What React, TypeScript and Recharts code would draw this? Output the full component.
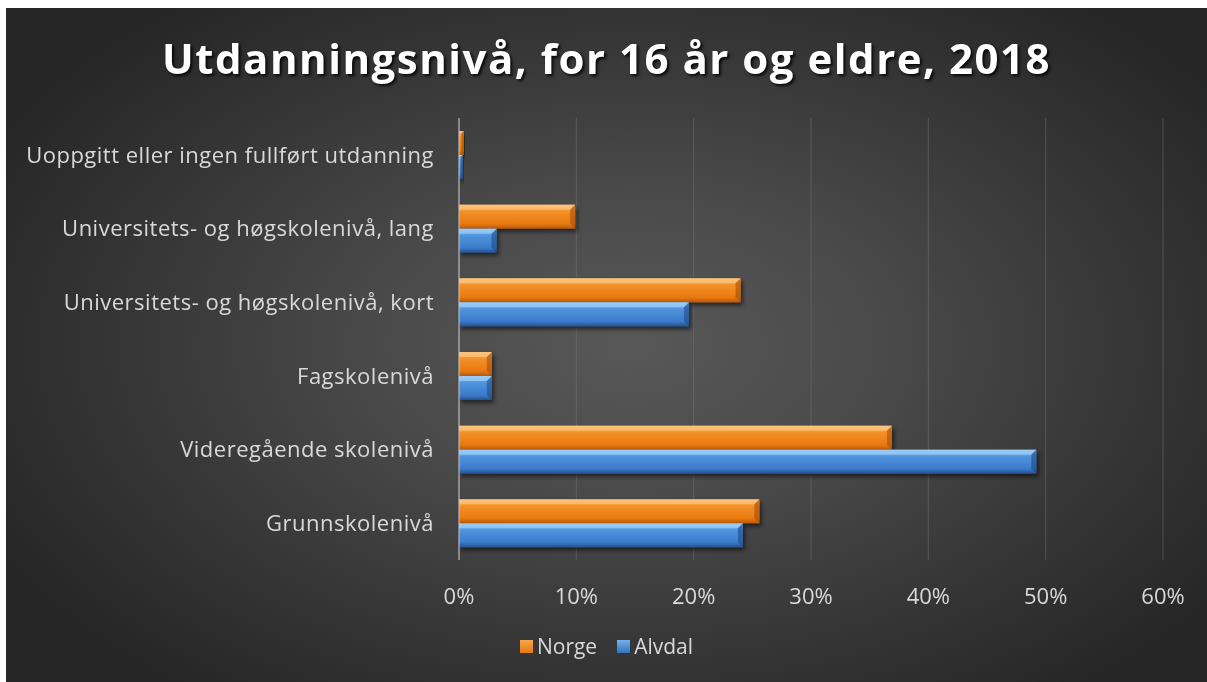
import React, { useLayoutEffect } from 'react';
import { BarChart, Bar, XAxis, YAxis, CartesianGrid, Legend } from 'recharts';

const categories = [
  'Uoppgitt eller ingen fullført utdanning',
  'Universitets- og høgskolenivå, lang',
  'Universitets- og høgskolenivå, kort',
  'Fagskolenivå',
  'Videregående skolenivå',
  'Grunnskolenivå',
];
const norge = [0.4, 9.9, 24.0, 2.8, 36.9, 25.6];
const alvdal = [0.3, 3.2, 19.6, 2.8, 49.2, 24.2];
const xTicks = [0, 10, 20, 30, 40, 50, 60];
const title = 'Utdanningsnivå, for 16 år og eldre, 2018';

const data = categories.map((c, i) => ({ name: c, Norge: norge[i], Alvdal: alvdal[i] }));

const FONT = '"Open Sans", Lato, sans-serif';

const BevelBar = (props: any) => {
  const { x, y, width, height, gradId, edge, light } = props;
  if (width == null || width <= 0) return null;
  const b = Math.min(5, width / 2);
  return (
    <g filter="url(#barShadow)">
      <rect x={x} y={y} width={width} height={height} fill={`url(#${gradId})`} />
      <polygon
        points={`${x},${y} ${x + width},${y} ${x + width - b},${y + b} ${x},${y + b}`}
        fill={light}
        opacity={0.55}
      />
      <polygon
        points={`${x + width},${y} ${x + width},${y + height} ${x + width - b},${y + height - b} ${x + width - b},${y + b}`}
        fill={edge}
        opacity={0.6}
      />
    </g>
  );
};

const LegendContent = () => {
  const items = [
    { name: 'Norge', c1: '#f9a54a', c2: '#e37a12' },
    { name: 'Alvdal', c1: '#73b2ef', c2: '#3572bd' },
  ];
  return (
    <div style={{ display: 'flex', justifyContent: 'center', alignItems: 'center', gap: 20, fontFamily: FONT, fontSize: 21, color: '#d9d9d9' }}>
      {items.map((it) => (
        <div key={it.name} style={{ display: 'flex', alignItems: 'center', gap: 4 }}>
          <span style={{ display: 'inline-block', width: 13, height: 13, background: `linear-gradient(180deg, ${it.c1}, ${it.c2})` }} />
          <span>{it.name}</span>
        </div>
      ))}
    </div>
  );
};

export default function App() {
  useLayoutEffect(() => {
    document.documentElement.style.overflow = 'hidden';
    document.body.style.overflow = 'hidden';
  }, []);
  return (
    <div
      style={{
        position: 'fixed',
        top: 8,
        left: 6,
        width: 1201,
        height: 674,
        overflow: 'hidden',
        background: 'radial-gradient(ellipse 60% 65% at 52% 50%, #585858 0%, #4a4a4a 35%, #363636 70%, #262626 100%)',
      }}
    >
      <div
        style={{
          position: 'absolute',
          top: 21,
          left: 0,
          width: 1201,
          textAlign: 'center',
          fontFamily: FONT,
          fontWeight: 700,
          fontSize: 42,
          color: '#ffffff',
          letterSpacing: 1.5,
          textShadow: '2px 2px 3px rgba(0,0,0,0.85)',
        }}
      >
        {title}
      </div>
      <BarChart
        width={1201}
        height={674}
        data={data}
        layout="vertical"
        margin={{ top: 110, right: 44, left: 2, bottom: 82 }}
        barGap={0}
        barSize={24}
      >
        <defs>
          <linearGradient id="gNorge" x1="0" y1="0" x2="0" y2="1">
            <stop offset="0%" stopColor="#fbb155" />
            <stop offset="30%" stopColor="#f39028" />
            <stop offset="80%" stopColor="#e9790f" />
            <stop offset="100%" stopColor="#b8580a" />
          </linearGradient>
          <linearGradient id="gAlvdal" x1="0" y1="0" x2="0" y2="1">
            <stop offset="0%" stopColor="#7dbbf3" />
            <stop offset="30%" stopColor="#4f93dc" />
            <stop offset="80%" stopColor="#3b7acb" />
            <stop offset="100%" stopColor="#25528f" />
          </linearGradient>
          <filter id="barShadow" x="-10%" y="-30%" width="130%" height="180%">
            <feDropShadow dx="2" dy="3" stdDeviation="2" floodColor="#000" floodOpacity="0.55" />
          </filter>
        </defs>
        <CartesianGrid horizontal={false} vertical stroke="#7a7a7a" strokeOpacity={0.45} />
        <XAxis
          type="number"
          domain={[0, 60]}
          ticks={xTicks}
          tickFormatter={(v: number) => `${v}%`}
          axisLine={false}
          tickLine={false}
          tickSize={0}
          tickMargin={28}
          height={40}
          tick={{ fill: '#d9d9d9', fontSize: 22, fontFamily: FONT }}
          interval={0}
        />
        <YAxis
          type="category"
          dataKey="name"
          width={451}
          axisLine={{ stroke: '#c8c8c8', strokeWidth: 1 }}
          tickLine={false}
          tickSize={0}
          tickMargin={25}
          tick={{ fill: '#d9d9d9', fontSize: 22, fontFamily: FONT, letterSpacing: 0.5 }}
          interval={0}
        />
        <Legend
          verticalAlign="middle"
          align="center"
          layout="horizontal"
          content={<LegendContent />}
          wrapperStyle={{ top: 624, left: 0, width: 1201 }}
        />
        <Bar
          dataKey="Norge"
          isAnimationActive={false}
          fill="#f08a1e"
          shape={(p: any) => <BevelBar {...p} gradId="gNorge" edge="#a34f08" light="#ffd39a" />}
        />
        <Bar
          dataKey="Alvdal"
          isAnimationActive={false}
          fill="#4a8fdc"
          shape={(p: any) => <BevelBar {...p} gradId="gAlvdal" edge="#1f4a85" light="#b3dcff" />}
        />
      </BarChart>
    </div>
  );
}
